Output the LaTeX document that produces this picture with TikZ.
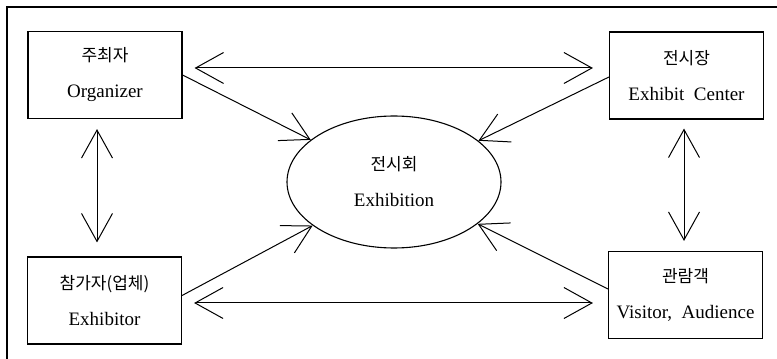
\documentclass[tikz,border=0pt]{standalone}
\usepackage{fontspec}
\setmainfont{Liberation Serif}
\newfontfamily\krfont{Noto Sans CJK KR}
\usetikzlibrary{
  positioning,
  arrows.meta,
  shapes.geometric
}

\begin{document}
\begin{tikzpicture}[
  x=1pt, y=1pt,
  party/.style={draw, line width=1.1pt, minimum width=154pt, minimum height=87pt,
                inner sep=0pt, align=center, font=\fontsize{19}{36}\selectfont},
  event/.style={draw, ellipse, line width=1.1pt, minimum width=214pt, minimum height=132pt,
                inner sep=0pt, align=center, font=\fontsize{19}{36}\selectfont},
  arr/.style={-{Straight Barb[length=28pt, width=31pt]}, line width=1pt},
  both/.style={{Straight Barb[length=28pt, width=31pt]}-{Straight Barb[length=28pt, width=31pt]},
               line width=1pt}
]
  \useasboundingbox (0,0) rectangle (777,359);

  % Frame (cut at right and bottom)
  \draw[line width=1.6pt] (7,0) -- (7,352) -- (777,352);

  % Parties
  \node[party] (org) at (105, 284) {{\krfont\fontsize{17}{36}\selectfont 주최자}\\Organizer};
  \node[party] (exc) at (686.5, 283.5) {{\krfont\fontsize{17}{36}\selectfont 전시장}\\Exhibit~ Center};
  \node[party] (exr) at (104.5, 58.5) {{\krfont\fontsize{17}{36}\selectfont 참가자(업체)}\\Exhibitor};
  \node[party] (vis) at (685.5, 64) {{\krfont\fontsize{17}{36}\selectfont 관람객}\\Visitor,~ Audience};

  % Exhibition
  \node[event] (exh) at (394, 177) {{\krfont\fontsize{17}{36}\selectfont 전시회}\\Exhibition};

  % Two-way links
  \draw[both] ([xshift=12pt, yshift=7pt]org.east) -- ([xshift=-16pt, yshift=7.5pt]exc.west);
  \draw[both] ([xshift=12pt, yshift=-2.5pt]exr.east) -- ([xshift=-15pt, yshift=-8pt]vis.west);
  \draw[both] ([xshift=-8pt, yshift=-10pt]org.south) -- ([xshift=-7.5pt, yshift=14pt]exr.north);
  \draw[both] ([xshift=-2.5pt, yshift=-9pt]exc.south) -- ([xshift=-1.5pt, yshift=10pt]vis.north);

  % Into the exhibition
  \draw[arr] (org.east) -- (exh);
  \draw[arr] ([yshift=-1.5pt]exc.west) -- (exh);
  \draw[arr] ([yshift=5pt]exr.east) -- (exh);
  \draw[arr] ([yshift=6pt]vis.west) -- (exh);
\end{tikzpicture}
\end{document}
